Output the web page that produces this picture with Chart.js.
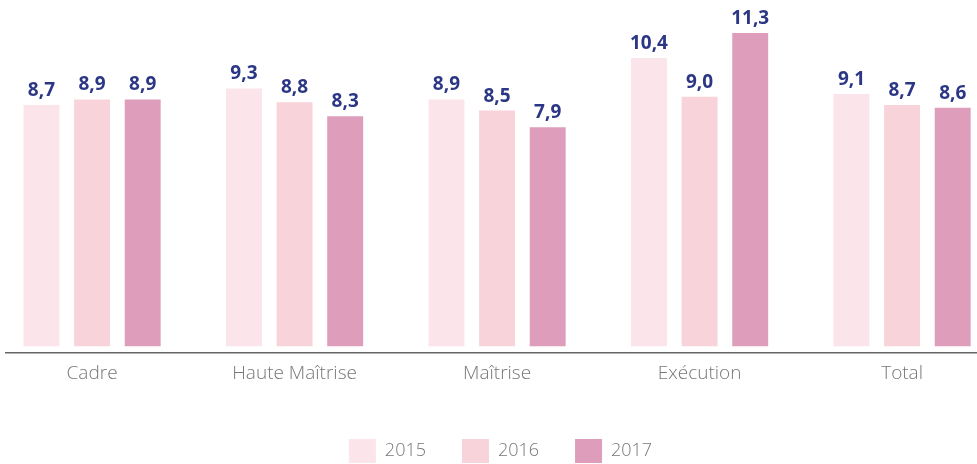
<!DOCTYPE html>
<html>
<head>
<meta charset="utf-8">
<script src="https://cdn.jsdelivr.net/npm/chart.js@4/dist/chart.umd.min.js"></script>
<style>
  html, body { margin: 0; padding: 0; background: #fff; }
  #wrap { position: relative; width: 977px; height: 464px; }
</style>
</head>
<body>
<div id="wrap"><canvas id="chart"></canvas></div>
<script>
const categories = ['Cadre', 'Haute Maîtrise', 'Maîtrise', 'Exécution', 'Total'];
const years = ['2015', '2016', '2017'];
const values2015 = [8.7, 9.3, 8.9, 10.4, 9.1];
const values2016 = [8.9, 8.8, 8.5, 9.0, 8.7];
const values2017 = [8.9, 8.3, 7.9, 11.3, 8.6];
const colors = ['#fbe4ea', '#f8d3da', '#de9dbb'];

const FONT = '"Open Sans", sans-serif';

// bar values printed above each bar, French decimal comma
const valueLabels = {
  id: 'valueLabels',
  afterDatasetsDraw(chart) {
    const ctx = chart.ctx;
    ctx.save();
    ctx.font = 'bold 19px ' + FONT;
    ctx.fillStyle = '#2b3785';
    ctx.textAlign = 'center';
    ctx.textBaseline = 'bottom';
    chart.data.datasets.forEach((ds, i) => {
      chart.getDatasetMeta(i).data.forEach((bar, j) => {
        const v = ds.data[j].y;
        ctx.fillText(v.toFixed(1).replace('.', ','), bar.x, bar.y - 5);
      });
    });
    ctx.restore();
  }
};

// nudge the legend a little to the right of centre
const legendShift = {
  id: 'legendShift',
  afterLayout(chart) {
    chart.legend.left += 9;
    chart.legend.right += 9;
  }
};

const toPoints = arr => arr.map((v, i) => ({ x: i, y: v }));

new Chart(document.getElementById('chart'), {
  type: 'bar',
  data: {
    datasets: [
      { label: years[0], data: toPoints(values2015), backgroundColor: colors[0] },
      { label: years[1], data: toPoints(values2016), backgroundColor: colors[1] },
      { label: years[2], data: toPoints(values2017), backgroundColor: colors[2] }
    ]
  },
  options: {
    responsive: true,
    maintainAspectRatio: false,
    animation: false,
    layout: { padding: { left: 6, right: 0, top: 0, bottom: -9 } },
    datasets: {
      bar: { categoryPercentage: 0.75, barPercentage: 0.71 }
    },
    scales: {
      x: {
        type: 'linear',
        offset: false,
        min: -0.425,
        max: 4.37,
        grid: { display: false, drawTicks: false },
        border: { display: true, color: '#666', width: 1.5 },
        afterBuildTicks: scale => {
          scale.ticks = categories.map((c, i) => ({ value: i }));
        },
        afterFit: scale => { scale.height += 9; },
        ticks: {
          padding: 9,
          color: '#777',
          font: { family: FONT, size: 19, weight: '300' },
          callback: v => categories[v]
        }
      },
      y: {
        display: false,
        min: -0.25,
        max: 12.49
      }
    },
    plugins: {
      tooltip: { enabled: false },
      legend: {
        position: 'bottom',
        labels: {
          boxWidth: 27,
          boxHeight: 24,
          padding: 36,
          color: '#777',
          font: { family: FONT, size: 18, weight: '300' }
        }
      }
    }
  },
  plugins: [valueLabels, legendShift]
});
</script>
</body>
</html>
